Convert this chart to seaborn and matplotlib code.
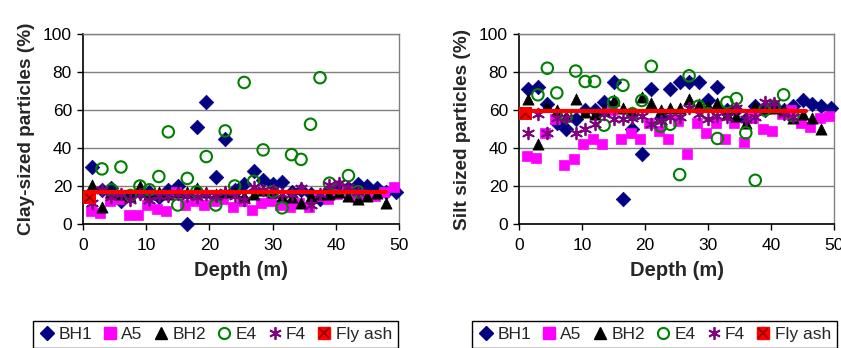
import matplotlib
matplotlib.use("Agg")
import matplotlib.pyplot as plt
import seaborn as sns
import pandas as pd
from matplotlib.lines import Line2D
from matplotlib.legend_handler import HandlerTuple

# ---------------- data ----------------
bh1_depth = [1.5, 3, 4.5, 6, 7.5, 9, 10.5, 12, 13.5, 15, 16.5, 18, 19.5, 21, 22.5, 24, 25.5,
             27, 28.5, 30, 31.5, 33, 34.5, 36, 37.5, 39, 40.5, 42, 43.5, 45, 46.5, 48, 49.5]
bh1_clay = [30, 18, 19, 12, 15, 17, 17, 14, 18, 20, 0, 51, 64, 25, 45, 18, 21,
            28, 23, 21, 22, 17, 18, 16, 13, 18, 20, 19, 21, 20, 19, 17, 17]
bh1_silt = [71, 72, 63, 53, 50, 55, 60, 60, 64, 75, 13, 50, 37, 71, 56, 71, 75,
            75, 75, 65, 72, 60, 60, 55, 62, 60, 62, 60, 62, 65, 63, 62, 61]

a5_depth = [1.2, 2.7, 4.2, 5.7, 7.2, 8.7, 10.2, 11.7, 13.2, 14.7, 16.2, 17.7, 19.2, 20.7, 22.2,
            23.7, 25.2, 26.7, 28.2, 29.7, 31.2, 32.7, 34.2, 35.7, 37.2, 38.7, 40.2, 41.7, 43.2,
            44.7, 46.2, 47.7, 49.2]
a5_clay = [7, 6, 12, 13, 5, 5, 10, 8, 7, 17, 10, 12, 10, 12, 13, 9, 12, 7.5, 11, 12, 10, 9,
           11, 9, 15, 13, 16, 18, 14, 15, 15, 17, 19.5]
a5_silt = [36, 35, 48, 55, 31, 34, 42, 45, 42, 60, 45, 48, 45, 53, 49, 45, 54, 37, 53, 48, 53,
           45, 53, 43, 56, 50, 49, 58, 60, 53, 51, 56, 57]

bh2_depth = [1.5, 3, 4.5, 6, 7.5, 9, 10.5, 12, 13.5, 15, 16.5, 18, 19.5, 21, 22.5, 24, 25.5,
             27, 28.5, 30, 31.5, 33, 34.5, 36, 37.5, 39, 40.5, 42, 43.5, 45, 46.5, 48]
bh2_clay = [20.5, 9, 17, 16, 15, 20, 16, 17, 16, 17, 17, 19, 17, 16, 17, 17, 15, 16, 18, 17,
            15, 14, 11, 15, 16, 16, 17, 15, 13, 15, 16.5, 11]
bh2_silt = [66, 42, 62, 60, 57, 66, 59, 58, 60, 65, 61, 59, 67, 63.5, 60, 61, 61, 66, 63, 62,
            63.5, 58, 57, 53, 62, 61, 61, 60, 56, 58, 56, 50]

e4_depth = [3, 4.5, 6, 7.5, 9, 10.5, 12, 13.5, 15, 16.5, 18, 19.5, 21, 22.5, 24, 25.5, 27,
            28.5, 30, 31.5, 33, 34.5, 36, 37.5, 39, 40.5, 42, 43.5]
e4_clay = [29, 18, 30, 15, 20, 18, 25, 48.5, 10, 24, 17, 35.5, 10, 49, 20, 74.5, 22.5, 39, 17,
           8.5, 36.5, 34, 52.5, 77, 21.5, 19, 25.5, 17]
e4_silt = [68, 82, 69, 56.5, 80.5, 75, 75, 52, 64, 73, 58, 65, 83, 51.5, 52.5, 26, 78, 62, 58,
           45, 64, 66, 48, 23, 60, 62, 68, 57]

f4_depth = [1.5, 3, 4.5, 6, 7.5, 9, 10.5, 12, 13.5, 15, 16.5, 18, 19.5, 21, 22.5, 24, 25.5,
            27, 28.5, 30, 31.5, 33, 34.5, 36, 37.5, 39, 40.5, 42, 43.5]
f4_clay = [11, 18, 14, 16, 12.5, 16, 12.5, 15, 15, 16, 15, 14, 16, 15, 17, 15, 12.5, 19.5, 18,
           18, 16, 16, 19, 10, 16, 20.5, 21.5, 19.5, 17]
f4_silt = [48, 58, 48, 56, 56, 48, 50, 52.5, 58, 55, 55, 56, 57, 52.5, 54, 56.5, 56.5, 61, 58,
           55, 57, 56.5, 61, 55, 56.5, 64, 63.5, 58, 56.5]

flyash_depth = [1]
flyash_clay = [14]
flyash_silt = [58.5]
flyash_line_depth_clay = [0.3, 48]
flyash_line_clay = [17, 17]
flyash_line_depth_silt = [0.2, 45.5]
flyash_line_silt = [59.5, 59.5]

series_names = ["BH1", "A5", "BH2", "E4", "F4", "Fly ash"]
x_ticks = [0, 10, 20, 30, 40, 50]
y_ticks = [0, 20, 40, 60, 80, 100]

# ---------------- style ----------------
sns.set_style("white")
plt.rcParams["font.family"] = ["Liberation Sans", "DejaVu Sans"]

NAVY, MAG, BLK, GRN, PUR, RED = "#000080", "#FF00FF", "#000000", "#008000", "#800080", "#FF0000"
styles = {
    "BH1": dict(marker="D", color=NAVY, edgecolor=NAVY, s=55, linewidth=0.5),
    "A5": dict(marker="s", color=MAG, edgecolor=MAG, s=60, linewidth=0.5),
    "BH2": dict(marker="^", color=BLK, edgecolor=BLK, s=65, linewidth=0.5),
    "E4": dict(marker="o", facecolor="none", edgecolor=GRN, s=68, linewidth=1.5),
    "F4": dict(marker=(6, 2, 0), color=PUR, s=70, linewidth=1.3),
}

fig = plt.figure(figsize=(8.41, 3.48), dpi=100)
W, H = 841, 348
ax1 = fig.add_axes([83 / W, 1 - 224 / H, 316 / W, 190 / H])
ax2 = fig.add_axes([519 / W, 1 - 224 / H, 315 / W, 190 / H])


def draw(ax, ylab, key, line_x, line_y, fly_y):
    data = {
        "BH1": (bh1_depth, bh1_clay if key == "clay" else bh1_silt),
        "A5": (a5_depth, a5_clay if key == "clay" else a5_silt),
        "BH2": (bh2_depth, bh2_clay if key == "clay" else bh2_silt),
        "E4": (e4_depth, e4_clay if key == "clay" else e4_silt),
        "F4": (f4_depth, f4_clay if key == "clay" else f4_silt),
    }
    for name, (xs, ys) in data.items():
        df = pd.DataFrame({"depth": xs, "val": ys})
        sns.scatterplot(data=df, x="depth", y="val", ax=ax, legend=False, zorder=3,
                        clip_on=False, **styles[name])
    dfa = pd.DataFrame({"depth": flyash_depth, "val": fly_y})
    sns.scatterplot(data=dfa, x="depth", y="val", ax=ax, marker="s", color=RED,
                    edgecolor=RED, s=80, legend=False, zorder=4, clip_on=False)
    sns.scatterplot(data=dfa, x="depth", y="val", ax=ax, marker="x", color="#8B0000",
                    s=50, linewidth=1.2, legend=False, zorder=5, clip_on=False)
    dfl = pd.DataFrame({"depth": line_x, "val": line_y})
    sns.lineplot(data=dfl, x="depth", y="val", ax=ax, color=RED, linewidth=3,
                 legend=False, zorder=6)

    ax.set_xlim(0, 50)
    ax.set_ylim(0, 100)
    ax.set_xticks(x_ticks)
    ax.set_yticks(y_ticks)
    ax.tick_params(axis="both", labelsize=12.5, length=4, width=1, direction="out",
                   colors="black")
    ax.tick_params(axis="x", pad=6)
    ax.tick_params(axis="y", pad=4)
    ax.tick_params(axis="both", left=True, bottom=True)
    ax.yaxis.grid(True, color="#808080", linewidth=1)
    ax.set_axisbelow(True)
    for s in ["left", "bottom"]:
        ax.spines[s].set_color("black")
        ax.spines[s].set_linewidth(1.2)
    for s in ["top", "right"]:
        ax.spines[s].set_color("#808080")
        ax.spines[s].set_linewidth(1)
    ax.set_xlabel("Depth (m)", fontsize=14.5, fontweight="bold", labelpad=6)
    ax.set_ylabel(ylab, fontsize=13.7, fontweight="bold", labelpad=6)


draw(ax1, "Clay-sized particles (%)", "clay", flyash_line_depth_clay, flyash_line_clay, flyash_clay)
draw(ax2, "Silt sized particles (%)", "silt", flyash_line_depth_silt, flyash_line_silt, flyash_silt)


def legend_handles():
    h = [
        Line2D([], [], linestyle="none", marker="D", color=NAVY, markersize=7),
        Line2D([], [], linestyle="none", marker="s", color=MAG, markersize=9),
        Line2D([], [], linestyle="none", marker="^", color=BLK, markersize=9),
        Line2D([], [], linestyle="none", marker="o", markerfacecolor="none",
               markeredgecolor=GRN, markeredgewidth=1.5, markersize=8),
        Line2D([], [], linestyle="none", marker=(6, 2, 0), color=PUR, markersize=9,
               markeredgewidth=1.3),
        (Line2D([], [], linestyle="none", marker="s", color=RED, markersize=9),
         Line2D([], [], linestyle="none", marker="x", color="#8B0000", markersize=7,
                markeredgewidth=1.2)),
    ]
    return h


for left in (33, 472):
    fig.legend(legend_handles(), series_names, loc="upper left",
               bbox_to_anchor=(left / W, 1 - 321 / H), ncol=6, fontsize=12.5,
               frameon=True, fancybox=False, edgecolor="black", framealpha=1,
               handlelength=0.9, handletextpad=0.2, columnspacing=0.6,
               borderpad=0.35, borderaxespad=0,
               handler_map={tuple: HandlerTuple(ndivide=1)})

fig.savefig("out.png", dpi=100)
